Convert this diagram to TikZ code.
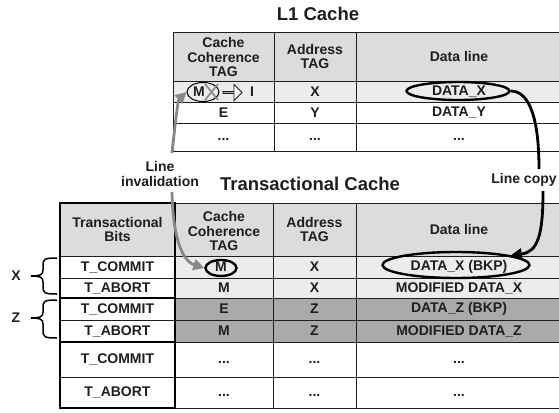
\documentclass[tikz,border=0pt]{standalone}
\usepackage{fontspec}
\setmainfont{Liberation Sans}
\usetikzlibrary{arrows.meta,shapes.geometric,shapes.arrows}

\definecolor{hdrgray}{RGB}{220,220,220}
\definecolor{lightrow}{RGB}{236,236,236}
\definecolor{darkrow}{RGB}{170,170,170}
\definecolor{arrowgray}{RGB}{135,135,135}
\definecolor{inkgray}{RGB}{30,30,30}

\begin{document}
\begin{tikzpicture}[x=1pt,y=-1pt,
    every node/.style={font=\bfseries\fontsize{14}{14.5}\selectfont, text=inkgray, inner sep=0pt, align=center},
    title/.style={font=\bfseries\fontsize{18.5}{20}\selectfont},
    gridline/.style={draw=inkgray, line width=0.9pt},
    ring/.style={ellipse, draw=black, line width=2.4pt, inner sep=0pt},
    invalarrow/.style={draw=arrowgray, line width=2.8pt, -{Triangle[length=11pt,width=11pt]}},
    copyarrow/.style={draw=black, line width=2.8pt}]

\useasboundingbox (0,0) rectangle (559,412);

%========================
% L1 cache table
%========================

% Shading
\fill[hdrgray] (173,32) rectangle (562,81);
\fill[lightrow] (173,81) rectangle (562,102);

% Grid
\foreach \y in {32,81,102,123,151} \draw[gridline] (173,\y) -- (562,\y);
\foreach \x in {173,274,356} \draw[gridline] (\x,32) -- (\x,151);

% Title and header
\node[title] (l1title) at (318,14) {L1 Cache};
\node (l1cc) at (223.5,57) {Cache\\Coherence\\TAG};
\node (l1addr) at (315,56.5) {Address\\TAG};
\node (l1data) at (459,56.5) {Data line};

% Row 1 (line X, invalidated)
\node (l1m) at (199,92) {M};
\node[ring, line width=1pt, minimum width=32pt, minimum height=19pt] (l1ring) at (203,92) {};
\draw[arrowgray, line width=1.6pt] (205,84) -- (218,100) (218,84) -- (205,100);
\node[single arrow, draw=inkgray, line width=0.9pt, fill=white, minimum width=16pt,
      minimum height=19pt, single arrow head extend=3.5pt] (l1chg) at (232,92.5) {};
\node (l1inv) at (252,92) {I};
\node (l1x) at (315,92) {X};
\node (l1datax) at (459,92) {DATA\_X};
\node[ring, minimum width=103pt, minimum height=18pt] (l1ringx) at (458,91) {};

% Row 2
\node (l1e) at (223.5,112.5) {E};
\node (l1y) at (315,112.5) {Y};
\node (l1datay) at (459,112.5) {DATA\_Y};

% Row 3
\node (l1dots1) at (223.5,139) {...};
\node (l1dots2) at (315,139) {...};
\node (l1dots3) at (459,139) {...};

%========================
% Transactional cache table
%========================

% Shading
\fill[hdrgray] (60,203) rectangle (562,256);
\fill[lightrow] (175,256) rectangle (562,298);
\fill[darkrow] (175,298) rectangle (562,342);

% Grid
\foreach \y in {203,256,278,298,320,342,377,408} \draw[gridline] (175,\y) -- (562,\y);
\foreach \x in {273,356} \draw[gridline] (\x,203) -- (\x,408);
\foreach \y in {256,278,320,377} \draw[gridline] (60,\y) -- (175,\y);
\foreach \y in {298,342} \draw[line width=2.5pt] (60,\y) -- (175,\y);
\draw[line width=2.8pt] (60,203) rectangle (175,408);

% Title and header
\node[title] (tctitle) at (310,184) {Transactional Cache};
\node (tcbits) at (117.5,229.5) {Transactional\\Bits};
\node (tccc) at (224,231) {Cache\\Coherence\\TAG};
\node (tcaddr) at (314.5,229.5) {Address\\TAG};
\node (tcdata) at (459,229.5) {Data line};

% Transactional bits
\node (b1) at (117.5,267) {T\_COMMIT};
\node (b2) at (117.5,288) {T\_ABORT};
\node (b3) at (117.5,309) {T\_COMMIT};
\node (b4) at (117.5,331) {T\_ABORT};
\node (b5) at (117.5,359.5) {T\_COMMIT};
\node (b6) at (117.5,392.5) {T\_ABORT};

% Coherence tags
\node (c1) at (221,267) {M};
\node[ring, minimum width=31pt, minimum height=16pt] (tcring) at (221,268) {};
\node (c2) at (224,288) {M};
\node (c3) at (224,309) {E};
\node (c4) at (224,331) {M};
\node (c5) at (224,362) {...};
\node (c6) at (224,395) {...};

% Address tags
\node (a1) at (314.5,267) {X};
\node (a2) at (314.5,288) {X};
\node (a3) at (314.5,309) {Z};
\node (a4) at (314.5,331) {Z};
\node (a5) at (314.5,362) {...};
\node (a6) at (314.5,395) {...};

% Data lines
\node (d1) at (459,267) {DATA\_X (BKP)};
\node[ring, minimum width=147pt, minimum height=26pt] (bkpring) at (456,265) {};
\node (d2) at (459,288) {MODIFIED DATA\_X};
\node (d3) at (459,309) {DATA\_Z (BKP)};
\node (d4) at (459,331) {MODIFIED DATA\_Z};
\node (d5) at (459,362) {...};
\node (d6) at (459,395) {...};

%========================
% Braces
%========================

\node (xlbl) at (16,276) {X};
\node (zlbl) at (16,318) {Z};
\draw[line width=1.5pt] (57,258) .. controls (44,258) and (43,259) .. (43,266) -- (43,270)
    .. controls (43,275) and (40,276) .. (31,276) .. controls (40,276) and (43,277) .. (43,282)
    -- (43,286) .. controls (43,293) and (44,294) .. (57,294);
\draw[line width=1.5pt] (57,300) .. controls (44,300) and (43,301) .. (43,308) -- (43,312)
    .. controls (43,317) and (40,318) .. (31,318) .. controls (40,318) and (43,319) .. (43,324)
    -- (43,330) .. controls (43,337) and (44,338) .. (57,338);

%========================
% Arrows
%========================

% Line invalidation
\node (inval) at (160,174) {Line\\invalidation};
\coordinate (invtop) at (172,153);
\coordinate (invbot) at (172,192);
\draw[invalarrow] (invtop) .. controls (175,125) and (178,100) .. (l1ring.west);
\draw[invalarrow] (invbot) .. controls (173,245) and (185,262) .. (tcring.west);

% Line copy
\node (copy) at (524,180) {Line copy};
\coordinate (cptop) at (539,169);
\coordinate (cpbot) at (543,191);
\draw[copyarrow] (l1ringx.east) .. controls (530,91) and (539,120) .. (cptop);
\draw[copyarrow, -{Triangle[length=11pt,width=11pt]}] (cpbot) .. controls (543,235) and (538,252) .. (bkpring.10);

\end{tikzpicture}
\end{document}
